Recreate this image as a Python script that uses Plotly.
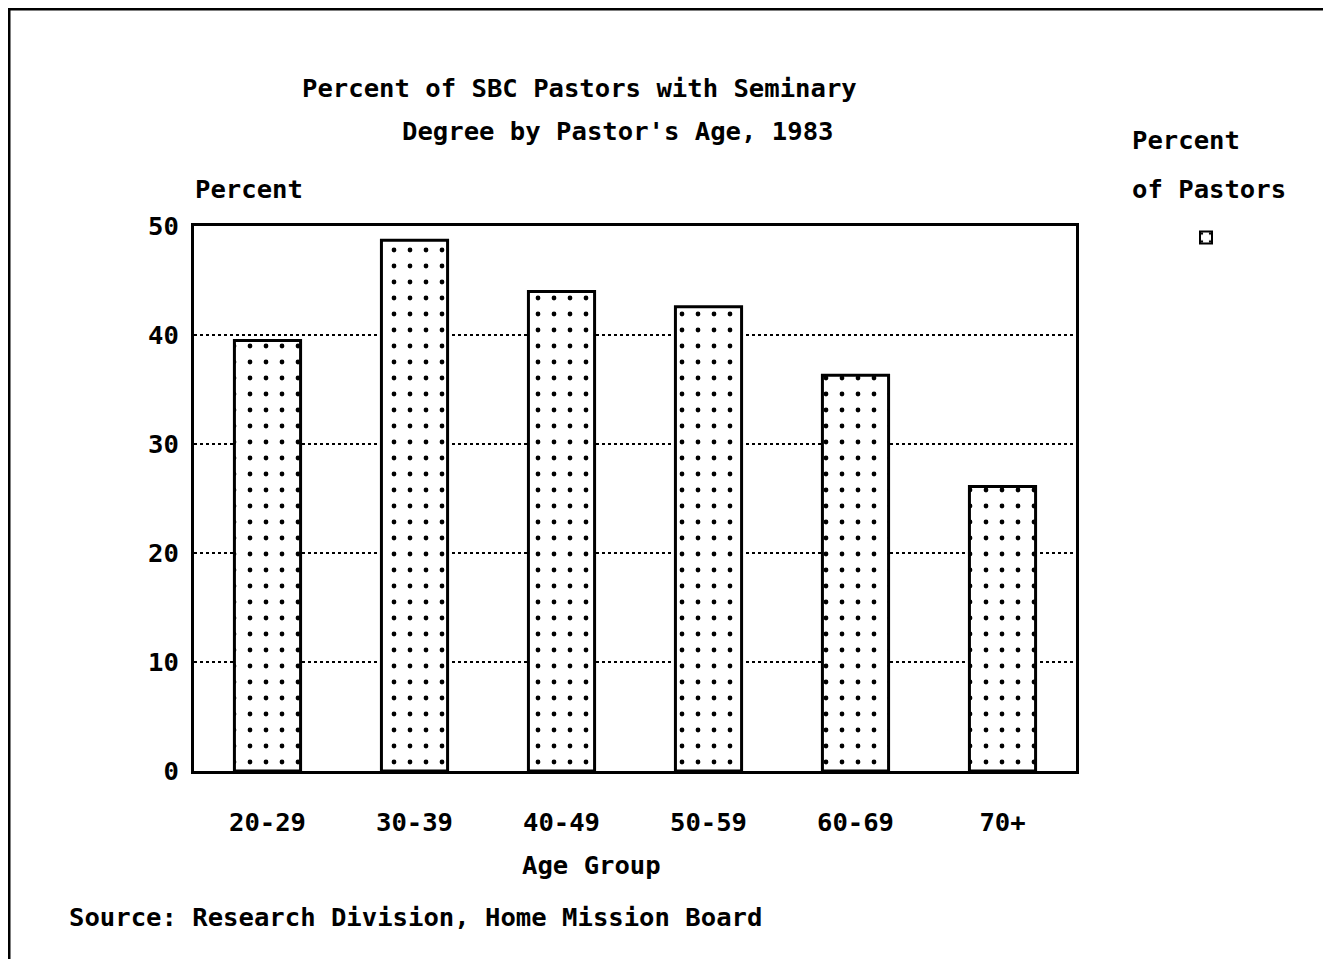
import plotly.graph_objects as go

age_groups = ["20-29", "30-39", "40-49", "50-59", "60-69", "70+"]
percent_with_degree = [39.5, 48.7, 44.0, 42.6, 36.3, 26.1]
y_ticks = [0, 10, 20, 30, 40, 50]

FONT = "DejaVu Sans Mono"
W, H = 1331, 959
OFF = 8  # page body offset
L, R, T, B = 194, 1076, 226, 771  # plot area in screen pixels
pw, ph = R - L, B - T


def px(x):
    return (x - L) / pw


def py(y):
    return (B - y) / ph


fig = go.Figure()
fig.add_trace(go.Bar(
    x=age_groups,
    y=percent_with_degree,
    name="",
    marker=dict(
        color="white",
        line=dict(color="black", width=3),
        pattern=dict(shape=".", size=16, solidity=0.07, fgcolor="black",
                     bgcolor="white", fgopacity=1),
    ),
    width=0.45,
    showlegend=True,
))

fig.update_layout(
    width=W, height=H,
    margin=dict(l=L - OFF, r=W - (R - OFF), t=T - OFF, b=H - (B - OFF), pad=0),
    paper_bgcolor="white",
    plot_bgcolor="white",
    font=dict(family=FONT, size=25.6, color="black", weight="bold"),
    bargap=0.55,
    showlegend=True,
    legend=dict(
        x=px(1186), y=py(223), xanchor="left", yanchor="top",
        title=dict(text=""),
        font=dict(size=2),
        itemsizing="constant",
        bgcolor="rgba(0,0,0,0)",
    ),
    xaxis=dict(
        showline=True, linecolor="black", linewidth=3, mirror=True,
        showgrid=False, ticks="", ticklabelstandoff=26,
        tickfont=dict(size=25.6),
    ),
    yaxis=dict(
        range=[0, 50], tickvals=y_ticks,
        showline=True, linecolor="black", linewidth=3, mirror=True,
        showgrid=True, gridcolor="black", griddash="dot", gridwidth=2,
        ticks="", ticklabelstandoff=7,
        tickfont=dict(size=25.6),
        zeroline=False,
    ),
    annotations=[
        dict(text="Percent of SBC Pastors with Seminary", x=px(300), y=py(88),
             xref="paper", yref="paper", xanchor="left", yanchor="middle",
             showarrow=False),
        dict(text="Degree by Pastor's Age, 1983", x=px(400), y=py(131),
             xref="paper", yref="paper", xanchor="left", yanchor="middle",
             showarrow=False),
        dict(text="Percent", x=px(193), y=py(189),
             xref="paper", yref="paper", xanchor="left", yanchor="middle",
             showarrow=False),
        dict(text="Age Group", x=px(591), y=py(865),
             xref="paper", yref="paper", xanchor="center", yanchor="middle",
             showarrow=False),
        dict(text="Percent", x=px(1130), y=py(140),
             xref="paper", yref="paper", xanchor="left", yanchor="middle",
             showarrow=False),
        dict(text="of Pastors", x=px(1130), y=py(189),
             xref="paper", yref="paper", xanchor="left", yanchor="middle",
             showarrow=False),
        dict(text="Source: Research Division, Home Mission Board", x=px(67), y=py(917),
             xref="paper", yref="paper", xanchor="left", yanchor="middle",
             showarrow=False),
    ],
    shapes=[
        dict(type="line", xref="paper", yref="paper",
             x0=px(5), x1=px(1345), y0=py(8), y1=py(8),
             line=dict(color="black", width=5)),
        dict(type="line", xref="paper", yref="paper",
             x0=px(8), x1=px(8), y0=py(5), y1=py(975),
             line=dict(color="black", width=5)),
    ],
)

fig.write_html("out.html")
